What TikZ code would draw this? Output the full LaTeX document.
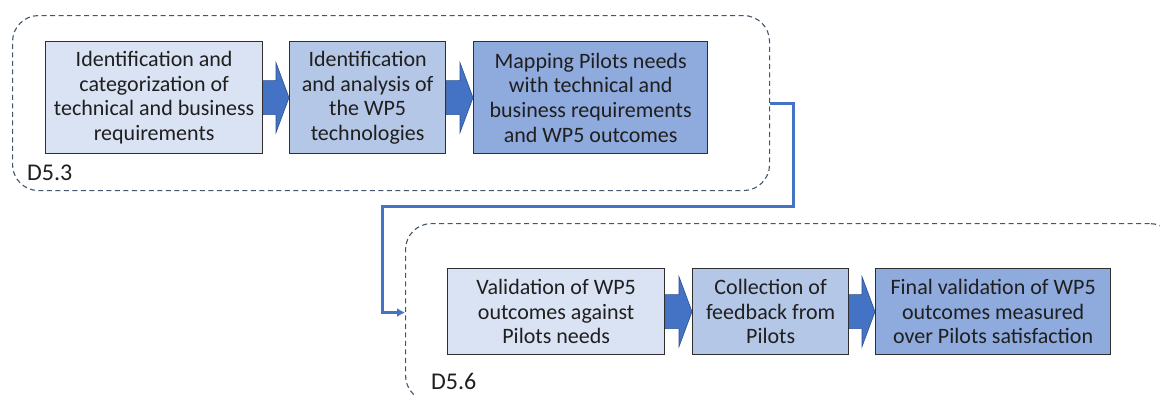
\documentclass[tikz,border=0pt]{standalone}
\usepackage{fontspec}
\setmainfont{Carlito}
\usetikzlibrary{calc,arrows.meta}
\definecolor{boxline}{HTML}{2F2F2F}
\definecolor{txt}{HTML}{1F1F1F}
\definecolor{fillA}{HTML}{DAE3F3}
\definecolor{fillB}{HTML}{B4C7E7}
\definecolor{fillC}{HTML}{8FAADC}
\definecolor{arrowblue}{HTML}{4472C4}
\definecolor{arrowedge}{HTML}{2F528F}
\definecolor{groupline}{HTML}{44546A}
\tikzset{
  stepbox/.style={draw=boxline, line width=1.3pt, rectangle, anchor=north west,
    align=center, text=txt, inner sep=0pt,
    font=\fontsize{22}{24.7}\selectfont},
  group/.style={draw=groupline, line width=1.1pt, dash pattern=on 5pt off 3.5pt,
    rounded corners=26pt, rectangle, anchor=north west, inner sep=0pt},
  grouplabel/.style={anchor=base west, text=txt, inner sep=0pt,
    font=\fontsize{24}{26}\selectfont},
  blockarrow/.style={fill=arrowblue, draw=arrowedge, line width=0.6pt, line join=miter},
  link/.style={draw=arrowblue, line width=3pt, line join=miter, -{Latex[length=8pt,width=9pt]}},
}
% block arrow between the facing sides of two step boxes
\newcommand{\stepjoin}[2]{%
  \path[blockarrow] ($(#1.east)+(0,-17)$) -- ($(#2.west)+(-13,-17)$)
    -- ($(#2.west)+(-13,-35)$) -- (#2.west) -- ($(#2.west)+(-13,35)$)
    -- ($(#2.west)+(-13,17)$) -- ($(#1.east)+(0,17)$) -- cycle;}
\begin{document}
\begin{tikzpicture}[x=1pt, y=-1pt]
  \useasboundingbox (0,0) rectangle (1160,394);
  \clip (0,0) rectangle (1160,394);
  \fill[white] (0,0) rectangle (1160,394);

  % groups
  \node[group, minimum width=757pt, minimum height=175pt] (d53) at (12,15) {};
  \node[group, minimum width=770pt, minimum height=178pt] (d56) at (405,223) {};
  \node[grouplabel] (l53) at (27,180) {D5.3};
  \node[grouplabel] (l56) at (431,389) {D5.6};

  % first row
  \node[stepbox, fill=fillA, minimum width=217pt, minimum height=112pt] (s1) at (45,41)
    {Identification and\\categorization of\\technical and business\\requirements};
  \node[stepbox, fill=fillB, minimum width=156pt, minimum height=112pt] (s2) at (289,41)
    {Identification\\and analysis of\\the WP5\\technologies};
  \node[stepbox, fill=fillC, minimum width=234pt, minimum height=112pt] (s3) at (473,41)
    {Mapping Pilots needs\\with technical and\\business requirements\\and WP5 outcomes};

  % second row
  \node[stepbox, fill=fillA, minimum width=217pt, minimum height=86pt] (s4) at (447,268)
    {Validation of WP5\\outcomes against\\Pilots needs};
  \node[stepbox, fill=fillB, minimum width=156pt, minimum height=86pt] (s5) at (692,268)
    {Collection of\\feedback from\\Pilots};
  \node[stepbox, fill=fillC, minimum width=235pt, minimum height=86pt] (s6) at (875,268)
    {Final validation of WP5\\outcomes measured\\over Pilots satisfaction};

  \stepjoin{s1}{s2}
  \stepjoin{s2}{s3}
  \stepjoin{s4}{s5}
  \stepjoin{s5}{s6}

  % hand-over between the two groups
  \coordinate (k1) at (793,100);
  \coordinate (k2) at (382,206);
  \draw[link] (d53.east) -- (d53.east -| k1) |- (k2) |- (d56.west);
\end{tikzpicture}
\end{document}
